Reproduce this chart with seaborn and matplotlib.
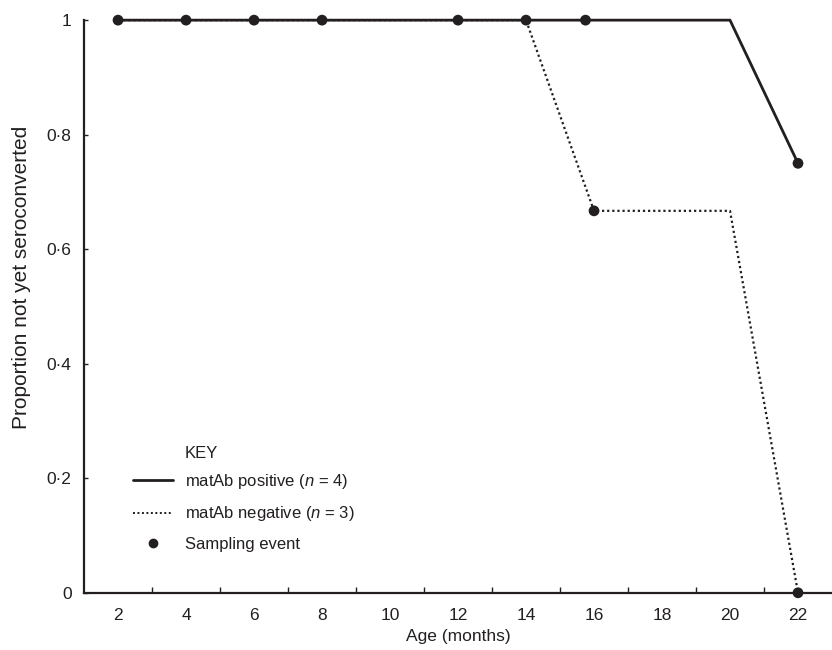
import numpy as np
import pandas as pd
import seaborn as sns
from matplotlib import pyplot as plt
from matplotlib.lines import Line2D
from matplotlib.ticker import FixedLocator

# survival-style curves (proportion not yet seroconverted)
pos_age = [2, 4, 6, 8, 12, 14, 15.75, 20, 22]
pos_prop = [1, 1, 1, 1, 1, 1, 1, 1, 0.75]
neg_age = [2, 14, 16, 20, 22]
neg_prop = [1, 1, 0.667, 0.667, 0]

# sampling events
samp_age = [2, 4, 6, 8, 12, 14, 15.75, 16, 22, 22]
samp_prop = [1, 1, 1, 1, 1, 1, 1, 0.667, 0.75, 0]

x_labels = [2, 4, 6, 8, 10, 12, 14, 16, 18, 20, 22]
y_ticks = [0, 0.2, 0.4, 0.6, 0.8, 1]
y_labels = ["0", "0·2", "0·4", "0·6", "0·8", "1"]

sns.set_style("ticks")
plt.rcParams["font.family"] = ["Liberation Sans", "DejaVu Sans"]
plt.rcParams["mathtext.fontset"] = "custom"
plt.rcParams["mathtext.it"] = "Liberation Sans:italic"
plt.rcParams["mathtext.rm"] = "Liberation Sans"

df_pos = pd.DataFrame({"age": pos_age, "prop": pos_prop})
df_neg = pd.DataFrame({"age": neg_age, "prop": neg_prop})
df_samp = pd.DataFrame({"age": samp_age, "prop": samp_prop})

fig = plt.figure(figsize=(8.32, 6.5), dpi=100)
ax = fig.add_axes([0.101, 0.088, 0.899, 0.881])

ink = "#231f20"
dots = (0, (1, 1.3))
sns.lineplot(data=df_neg, x="age", y="prop", ax=ax, color=ink, lw=1.6,
             linestyle=dots, sort=False, estimator=None)
sns.lineplot(data=df_pos, x="age", y="prop", ax=ax, color=ink, lw=2.0,
             sort=False, estimator=None)
sns.scatterplot(data=df_samp, x="age", y="prop", ax=ax, color=ink, s=60,
                edgecolor="none", clip_on=False, zorder=5)

ax.set_xlim(1, 23)
ax.set_ylim(0, 1)
for line in ax.lines:
    line.set_clip_on(False)

# labels sit at even ages, tick marks at odd ages
ax.xaxis.set_major_locator(FixedLocator(x_labels))
ax.set_xticklabels([str(v) for v in x_labels])
ax.xaxis.set_minor_locator(FixedLocator(list(range(3, 23, 2))))
ax.tick_params(axis="x", which="major", length=0, pad=11, labelsize=12.5,
               labelcolor=ink)
ax.tick_params(axis="x", which="minor", direction="in", length=4,
               width=1, color=ink)
ax.set_yticks(y_ticks)
ax.set_yticklabels(y_labels)
ax.tick_params(axis="y", direction="in", length=3, width=1, color=ink,
               pad=9, labelsize=12.5, labelcolor=ink)

sns.despine(ax=ax)
for sp in ("left", "bottom"):
    ax.spines[sp].set_linewidth(1.6)
    ax.spines[sp].set_color(ink)

ax.set_xlabel("Age (months)", fontsize=12.5, color=ink, labelpad=4)
ax.set_ylabel("Proportion not yet seroconverted", fontsize=15, color=ink)
ax.yaxis.set_label_coords(-0.071, 0.55)

handles = [
    Line2D([], [], color=ink, lw=2.0),
    Line2D([], [], color=ink, lw=1.4, linestyle=dots),
    Line2D([], [], color=ink, lw=0, marker="o", markersize=6),
]
labels = ["matAb positive ($n$ = 4)", "matAb negative ($n$ = 3)", "Sampling event"]
leg = ax.legend(handles, labels, loc="upper left",
                bbox_to_anchor=(0.056, 0.223), borderaxespad=0,
                frameon=False, fontsize=12, handlelength=2.4,
                handletextpad=0.72, labelspacing=0.82)
for t in leg.get_texts():
    t.set_color(ink)
ax.text(0.135, 0.244, "KEY", transform=ax.transAxes, fontsize=12,
        color=ink, ha="left", va="center")

fig.savefig("out.png", dpi=100)
